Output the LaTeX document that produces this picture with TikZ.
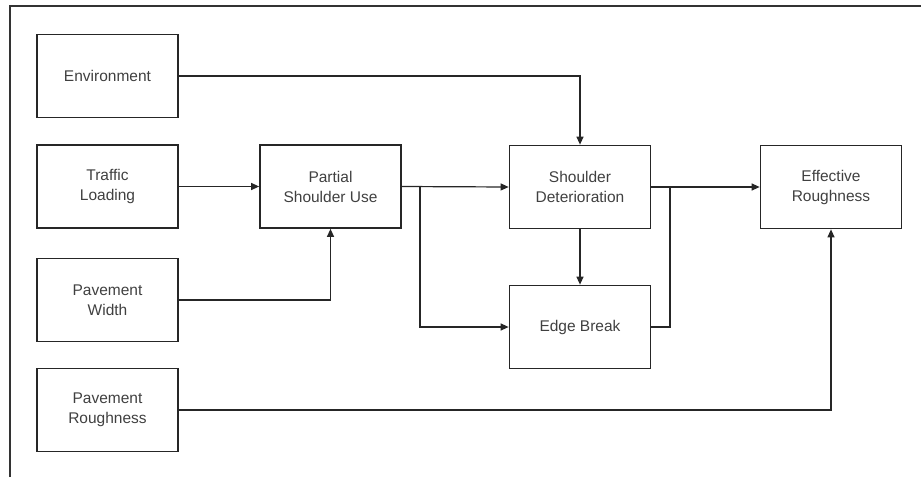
\documentclass[tikz,border=0pt]{standalone}
\usepackage{fontspec}
\setmainfont{Liberation Sans}
\usetikzlibrary{arrows.meta}
\begin{document}
\begin{tikzpicture}[x=1pt,y=-1pt,
  blk/.style={draw=black!85,line width=1.7pt,minimum width=141pt,minimum height=83pt,
    align=center,inner sep=2pt,font=\fontsize{15.5}{20}\selectfont,text=black!75},
  conn/.style={draw=black!85,line width=1.2pt},
  arr/.style={conn,-{Triangle[length=8pt,width=7pt]}}]
\useasboundingbox (0,0) rectangle (921,477);
\draw[line width=1.6pt,draw=black!80] (10,477) -- (10,6) -- (921,6);
\node[blk] (env) at (107.5,76) {Environment};
\node[blk] (tl) at (107.5,186.5) {Traffic\\Loading};
\node[blk] (pw) at (107.5,300) {Pavement\\Width};
\node[blk] (pr) at (107.5,410) {Pavement\\Roughness};
\node[blk] (psu) at (330.5,186.5) {Partial\\Shoulder Use};
\node[blk] (sd) at (580,187) {Shoulder\\Deterioration};
\node[blk] (eb) at (580,327) {Edge Break};
\node[blk] (er) at (831,187) {Effective\\Roughness};
\coordinate (j1) at (420,187);
\coordinate (j2) at (670,187);
\draw[arr] (env.east) -| (sd.north);
\draw[arr] (tl.east) -- (psu.west);
\draw[arr] (pw.east) -| (psu.south);
\draw[arr] (psu.east) -- (sd.west);
\draw[arr] (j1) |- (eb.west);
\draw[arr] (sd.south) -- (eb.north);
\draw[arr] (sd.east) -- (er.west);
\draw[conn] (eb.east) -| (j2);
\draw[arr] (pr.east) -| (er.south);
\end{tikzpicture}
\end{document}
